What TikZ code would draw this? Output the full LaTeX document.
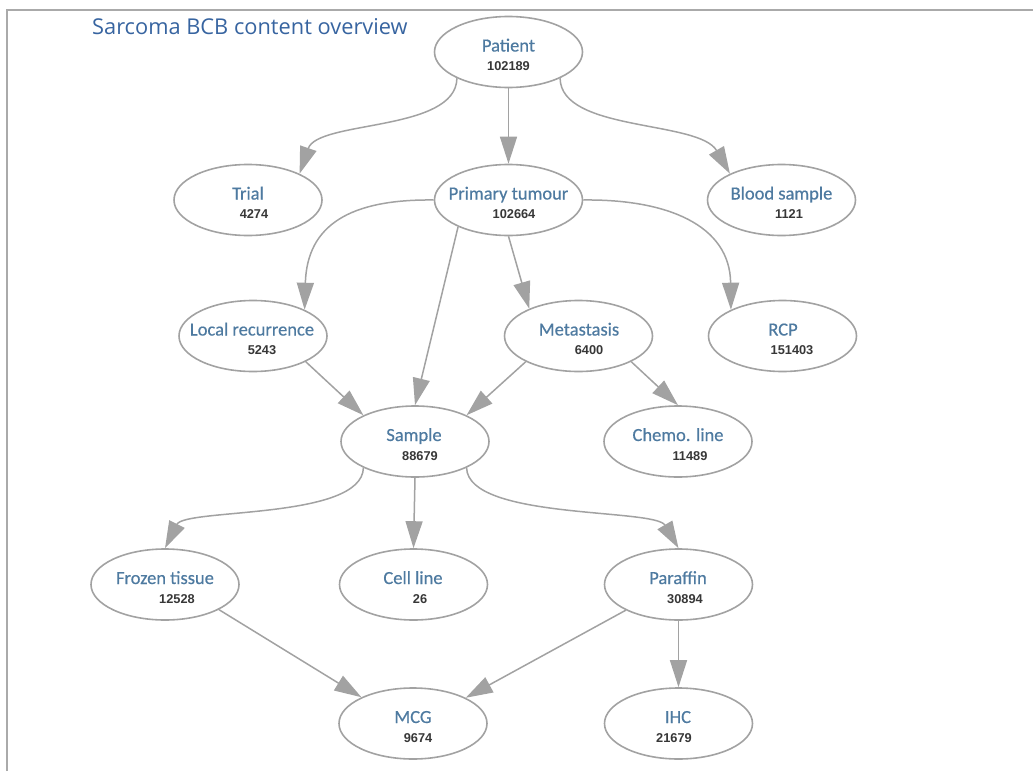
\documentclass[tikz,border=0pt]{standalone}
\usepackage{fontspec}
\setmainfont{Carlito}
\newfontfamily\lblfont{Carlito}[FakeBold=0.5]
\newfontfamily\titlefont{Open Sans}
\newfontfamily\numfont{Liberation Sans}
\usetikzlibrary{arrows.meta,calc,shapes.geometric}
\definecolor{titleblue}{RGB}{55,100,160}
\definecolor{lblblue}{RGB}{78,122,160}
\definecolor{numgray}{RGB}{55,55,55}
\definecolor{edgegray}{RGB}{162,162,162}
\definecolor{framegray}{RGB}{170,170,170}
\tikzset{
  ell/.style={draw=edgegray, line width=1.6pt, ellipse, minimum width=148pt, minimum height=71pt, inner sep=0pt},
  lbl/.style={anchor=base, inner sep=0pt, text=lblblue, font=\lblfont\fontsize{18.5}{20}\selectfont},
  num/.style={anchor=base, inner sep=0pt, text=numgray, font=\numfont\bfseries\fontsize{12.8}{14}\selectfont},
  conn/.style={draw=edgegray, line width=1.5pt, -{Triangle[length=27pt,width=17pt]}},
}
\begin{document}
\begin{tikzpicture}[x=1pt,y=-1pt]
\useasboundingbox (0,0) rectangle (1033,771);
% frame
\coordinate (fbl) at (7,771);
\coordinate (ftl) at (7,10);
\coordinate (ftr) at (1033,10);
\draw[framegray, line width=1.5pt] (fbl) -- (ftl) -- (ftr);
% title
\node[anchor=base west, inner sep=0pt, text=titleblue, font=\titlefont\fontsize{21.8}{24}\selectfont] (title) at (92,34) {Sarcoma BCB content overview};
% nodes
\node[ell] (pat) at (508.5,52) {};
\node[ell] (trial) at (248,200) {};
\node[ell] (pt) at (508.5,200) {};
\node[ell] (bld) at (781.5,200) {};
\node[ell] (lr) at (253,336) {};
\node[ell] (met) at (578.5,336) {};
\node[ell] (rcp) at (782.5,336) {};
\node[ell] (sam) at (415,441.5) {};
\node[ell] (che) at (678,441.5) {};
\node[ell] (frz) at (165,584.5) {};
\node[ell] (cel) at (413.5,584.5) {};
\node[ell] (par) at (678.5,584.5) {};
\node[ell] (mcg) at (413,723.5) {};
\node[ell] (ihc) at (678.5,723.5) {};
% labels
\node[lbl] (patl) at ($(pat)+(0,-0.5)$) {Patient};
\node[num] (patn) at ($(pat)+(0,18.5)$) {102189};
\node[lbl] (triall) at ($(trial)+(0,-0.5)$) {Trial};
\node[num] (trialn) at ($(trial)+(6,18.5)$) {4274};
\node[lbl] (ptl) at ($(pt)+(0,-0.5)$) {Primary tumour};
\node[num] (ptn) at ($(pt)+(5.5,18.5)$) {102664};
\node[lbl] (bldl) at ($(bld)+(0,-0.5)$) {Blood sample};
\node[num] (bldn) at ($(bld)+(7.5,18.5)$) {1121};
\node[lbl] (lrl) at ($(lr)+(-1,-0.5)$) {Local recurrence};
\node[num] (lrn) at ($(lr)+(9,18.5)$) {5243};
\node[lbl] (metl) at ($(met)+(0.5,-0.5)$) {Metastasis};
\node[num] (metn) at ($(met)+(10.5,18.5)$) {6400};
\node[lbl] (rcpl) at ($(rcp)+(0.5,-0.5)$) {RCP};
\node[num] (rcpn) at ($(rcp)+(9.5,18.5)$) {151403};
\node[lbl] (saml) at ($(sam)+(-1,-0.5)$) {Sample};
\node[num] (samn) at ($(sam)+(5,18.5)$) {88679};
\node[lbl] (chel) at ($(che)+(0,-0.5)$) {Chemo. line};
\node[num] (chen) at ($(che)+(12,18.5)$) {11489};
\node[lbl] (frzl) at ($(frz)+(0,-0.5)$) {Frozen tissue};
\node[num] (frzn) at ($(frz)+(12,18.5)$) {12528};
\node[lbl] (cell) at ($(cel)+(-0.5,-0.5)$) {Cell line};
\node[num] (celn) at ($(cel)+(6.5,18.5)$) {26};
\node[lbl] (parl) at ($(par)+(-0.5,-0.5)$) {Paraffin};
\node[num] (parn) at ($(par)+(6.5,18.5)$) {30894};
\node[lbl] (mcgl) at ($(mcg)+(0,-0.5)$) {MCG};
\node[num] (mcgn) at ($(mcg)+(5,18.5)$) {9674};
\node[lbl] (ihcl) at ($(ihc)+(-0.5,-0.5)$) {IHC};
\node[num] (ihcn) at ($(ihc)+(-4.5,18.5)$) {21679};
% connectors
\draw[conn] (pat.207) .. controls (456,132) and (318,120) .. (trial.27);
\draw[conn] (pat.-27) .. controls (561,132) and (699,120) .. (bld.153);
\draw[conn] (pat.south) -- (pt.north);
\draw[conn] (pt.west) .. controls (350,199) and (307,225) .. (lr.27);
\draw[conn] (pt.east) .. controls (667,199) and (730,225) .. (rcp.153);
\draw[conn] (pt.208) -- (sam.north);
\draw[conn] (pt.south) -- (met.151);
\draw[conn] (lr.-26) -- (sam.153);
\draw[conn] (met.206) -- (sam.27);
\draw[conn] (met.-26) -- (che.north);
\draw[conn] (sam.207) .. controls (362,520) and (185,508) .. (frz.north);
\draw[conn] (sam.south) -- (cel.north);
\draw[conn] (sam.-27) .. controls (468,520) and (655,508) .. (par.north);
\draw[conn] (frz.-25) -- (mcg.153);
\draw[conn] (par.206) -- (mcg.26);
\draw[conn] (par.south) -- (ihc.north);
\end{tikzpicture}
\end{document}
